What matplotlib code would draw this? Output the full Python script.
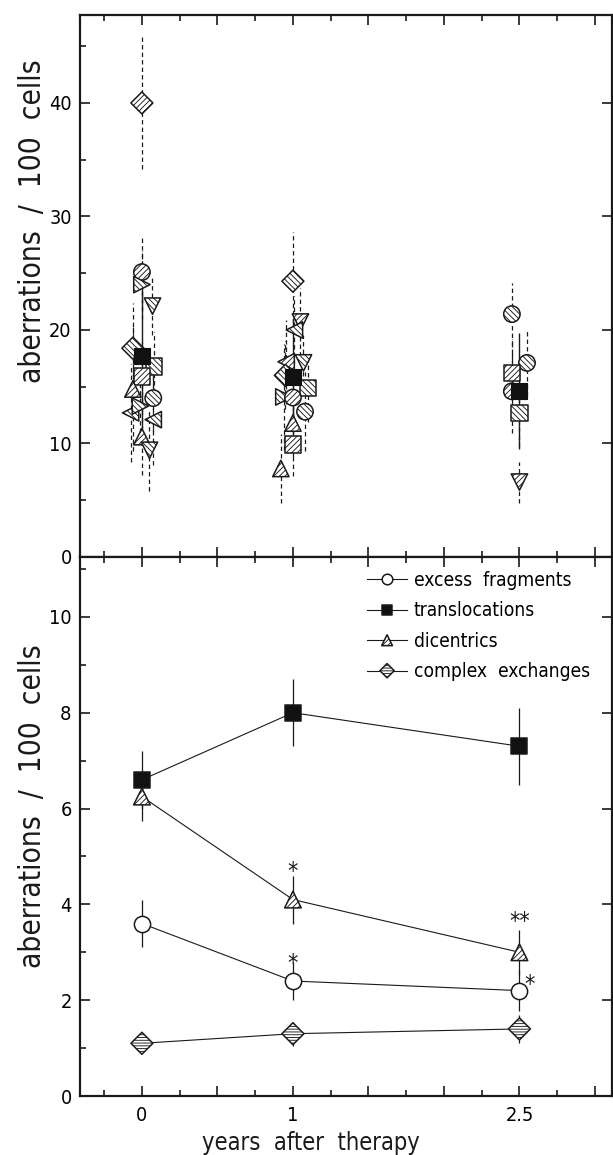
import matplotlib
matplotlib.use('Agg')
import matplotlib.pyplot as plt
from matplotlib import font_manager as fm
from matplotlib.ticker import MultipleLocator, FuncFormatter
from matplotlib.legend_handler import HandlerTuple

# ---------------- data ----------------
years = [0, 1, 2.5]
year_labels = ['0', '1', '2.5']

# top panel: individual patients (x jitter, value, error, marker, hatch)
t0_markers = ['D', 'o', '>', 'v', 'D', 's', 's', '^', 'o', '<', '>', '<', '^', 'v']
t0_dx      = [0.0, 0.0, 0.0, 0.07, -0.06, 0.08, 0.0, -0.06, 0.075, -0.075, -0.01, 0.075, 0.0, 0.05]
t0_vals    = [40.0, 25.1, 24.0, 22.1, 18.4, 16.8, 15.9, 14.8, 14.0, 12.7, 13.3, 12.1, 10.6, 9.4]
t0_errs    = [5.8, 3.3, 3.0, 2.5, 4.0, 3.0, 3.0, 5.5, 3.0, 4.3, 3.0, 4.0, 3.4, 3.6]
t0_hatch   = ['/', '/', '\\', '\\', '\\', '\\', '/', '/', '\\', '\\', '\\', '\\', '/', '\\']

t1_markers = ['D', 'v', '<', '<', 'v', 's', '>', 'o', 'o', '^', 's', '^', 'D']
t1_dx      = [0.0, 0.05, 0.01, -0.045, 0.07, 0.1, -0.06, 0.0, 0.08, 0.0, 0.0, -0.08, -0.05]
t1_vals    = [24.3, 20.7, 20.0, 17.2, 17.1, 14.9, 14.1, 14.05, 12.8, 11.8, 9.9, 7.8, 16.0]
t1_errs    = [4.3, 3.0, 3.0, 3.7, 2.5, 3.0, 4.7, 3.0, 3.5, 3.0, 2.8, 3.0, 3.0]
t1_hatch   = ['\\', '/', '\\', '/', '\\', '\\', '\\', '/', '\\', '/', '/', '/', '\\']

t25_markers = ['o', 'o', 's', 'o', 's', 'v']
t25_dx      = [-0.05, 0.05, -0.05, -0.05, 0.0, 0.0]
t25_vals    = [21.4, 17.1, 16.2, 14.6, 12.7, 6.6]
t25_errs    = [2.7, 2.9, 3.0, 3.7, 3.0, 1.8]
t25_hatch   = ['\\', '\\', '/', '/', '\\', '/']

# top panel: group means (black squares)
top_mean = [17.7, 15.9, 14.65]
top_err = [6.3, 5.1, 5.1]

# bottom panel: means with errors
frag_mean = [3.6, 2.4, 2.2]
frag_err = [0.5, 0.4, 0.42]
trans_mean = [6.6, 8.0, 7.3]
trans_err = [0.6, 0.7, 0.8]
dic_mean = [6.25, 4.1, 3.0]
dic_err = [0.5, 0.5, 0.47]
cplx_mean = [1.1, 1.3, 1.4]
cplx_err = [0.08, 0.25, 0.3]
series_labels = ['excess  fragments', 'translocations', 'dicentrics', 'complex  exchanges']

# significance marks
star_x = [1, 1, 2.5, 2.57]
star_y = [4.8, 2.88, 3.76, 2.45]
star_txt = ['*', '*', '**', '*']

# ---------------- font ----------------
def pick_font():
    try:
        p = fm.findfont(fm.FontProperties(family='DejaVu Sans', stretch='condensed'),
                        fallback_to_default=False)
        if 'Condensed' in p:
            return 'DejaVu Sans', 'condensed', 1.1
    except Exception:
        pass
    return 'DejaVu Sans', 'normal', 1.0

fam, stretch, fscale = pick_font()
plt.rcParams['font.family'] = [fam]
plt.rcParams['font.stretch'] = stretch
plt.rcParams['hatch.linewidth'] = 0.65
plt.rcParams['hatch.color'] = 'black'

W, H = 613, 1155
fig = plt.figure(figsize=(W / 100, H / 100), dpi=100)

def fx(px):
    return px / W

def fy(py):
    return 1 - py / H

L, R = 80, 612
T1, M, B2 = 15, 557, 1096
ax1 = fig.add_axes([fx(L), fy(M), (R - L) / W, (M - T1) / H])
ax2 = fig.add_axes([fx(L), fy(B2), (R - L) / W, (B2 - M) / H])

ink = '#1a1a1a'
tick_fs = 13 * fscale

for ax in (ax1, ax2):
    ax.set_xlim(-0.41, 3.113)
    ax.xaxis.set_major_locator(MultipleLocator(0.5))
    ax.xaxis.set_minor_locator(MultipleLocator(0.25))
    ax.tick_params(which='both', direction='in', top=True, bottom=True,
                   left=True, right=True, width=1.2, color=ink,
                   labelsize=tick_fs)
    ax.tick_params(which='major', length=7)
    ax.tick_params(which='minor', length=4.5)
    ax.tick_params(axis='y', which='minor', right=False)
    ax.tick_params(axis='y', pad=6)
    ax.tick_params(axis='x', pad=7)
    for sp in ax.spines.values():
        sp.set_linewidth(1.6)
        sp.set_color(ink)

ax1.set_ylim(0, 47.75)
ax1.yaxis.set_major_locator(MultipleLocator(10))
ax1.yaxis.set_minor_locator(MultipleLocator(5))
ax1.tick_params(axis='x', labelbottom=False)

ax2.set_ylim(0, 11.25)
ax2.yaxis.set_major_locator(MultipleLocator(2))
ax2.yaxis.set_minor_locator(MultipleLocator(1))

def xfmt(v, pos):
    for yv, lab in zip(years, year_labels):
        if abs(v - yv) < 1e-6:
            return lab
    return ''
ax2.xaxis.set_major_formatter(FuncFormatter(xfmt))

# ---------------- top panel ----------------
hatch_map = {'/': '//////', '\\': '\\\\\\\\\\\\'}
ms_top = 11.8

def draw_group(t, markers, dx, vals, errs, hatches):
    for m, d, v, e, h in zip(markers, dx, vals, errs, hatches):
        x = t + d
        ax1.vlines(x, v - e, v + e, colors=ink, linewidth=0.9,
                   linestyles=(0, (3.5, 2.5)), zorder=1)
    for m, d, v, e, h in zip(markers, dx, vals, errs, hatches):
        x = t + d
        size = ms_top ** 2 if m != 'D' else (ms_top * 0.95) ** 2
        ax1.scatter([x], [v], marker=m, s=size, facecolor='white',
                    edgecolor=ink, hatch=hatch_map[h], linewidth=1.1, zorder=3)

draw_group(years[0], t0_markers, t0_dx, t0_vals, t0_errs, t0_hatch)
draw_group(years[1], t1_markers, t1_dx, t1_vals, t1_errs, t1_hatch)
draw_group(years[2], t25_markers, t25_dx, t25_vals, t25_errs, t25_hatch)

for x, v, e in zip(years, top_mean, top_err):
    ax1.vlines(x, v - e, v + e, colors=ink, linewidth=1.0, zorder=2)
ax1.scatter(years, top_mean, marker='s', s=12 ** 2, facecolor='#111111',
            edgecolor='#111111', linewidth=0.8, zorder=5)

# ---------------- bottom panel ----------------
specs = [
    (frag_mean, frag_err, 'o', 'white', None, 11.7),
    (trans_mean, trans_err, 's', '#111111', None, 11.7),
    (dic_mean, dic_err, '^', 'white', '//////', 12.0),
    (cplx_mean, cplx_err, 'D', 'white', '------', 11.2),
]
handles = []
for means, errs, m, fc, h, ms in specs:
    ln, = ax2.plot(years, means, color=ink, linewidth=0.8, zorder=1)
    ax2.vlines(years, [a - b for a, b in zip(means, errs)],
               [a + b for a, b in zip(means, errs)], colors=ink,
               linewidth=0.9, zorder=2)
    sc = ax2.scatter(years, means, marker=m, s=ms ** 2, facecolor=fc,
                     edgecolor=ink, hatch=h, linewidth=1.1, zorder=3)
    handles.append((ln, sc))

for x, y, txt in zip(star_x, star_y, star_txt):
    ax2.annotate(txt, (x, y), xytext=(0, -4), textcoords='offset points',
                 ha='center', va='center', fontsize=15 * fscale, color=ink)

leg = ax2.legend(handles, series_labels, loc='upper left',
                 bbox_to_anchor=(fx(367), fy(571)), bbox_transform=fig.transFigure,
                 frameon=False, borderpad=0, borderaxespad=0,
                 handlelength=2.1, handletextpad=0.35, labelspacing=0.6,
                 markerscale=0.65, scatteryoffsets=[0.5],
                 handler_map={tuple: HandlerTuple(ndivide=1)},
                 prop={'size': 12.5 * fscale})

# ---------------- labels ----------------
ylab = 'aberrations  /  100  cells'
fig.text(fx(33), fy(221), ylab, rotation=90, ha='center', va='center',
         fontsize=19.5 * fscale, color=ink)
fig.text(fx(33), fy(806), ylab, rotation=90, ha='center', va='center',
         fontsize=19.5 * fscale, color=ink)
fig.text(fx(311), fy(1143), 'years  after  therapy', ha='center', va='center',
         fontsize=15.5 * fscale, color=ink)

fig.savefig('out.png', dpi=100)
